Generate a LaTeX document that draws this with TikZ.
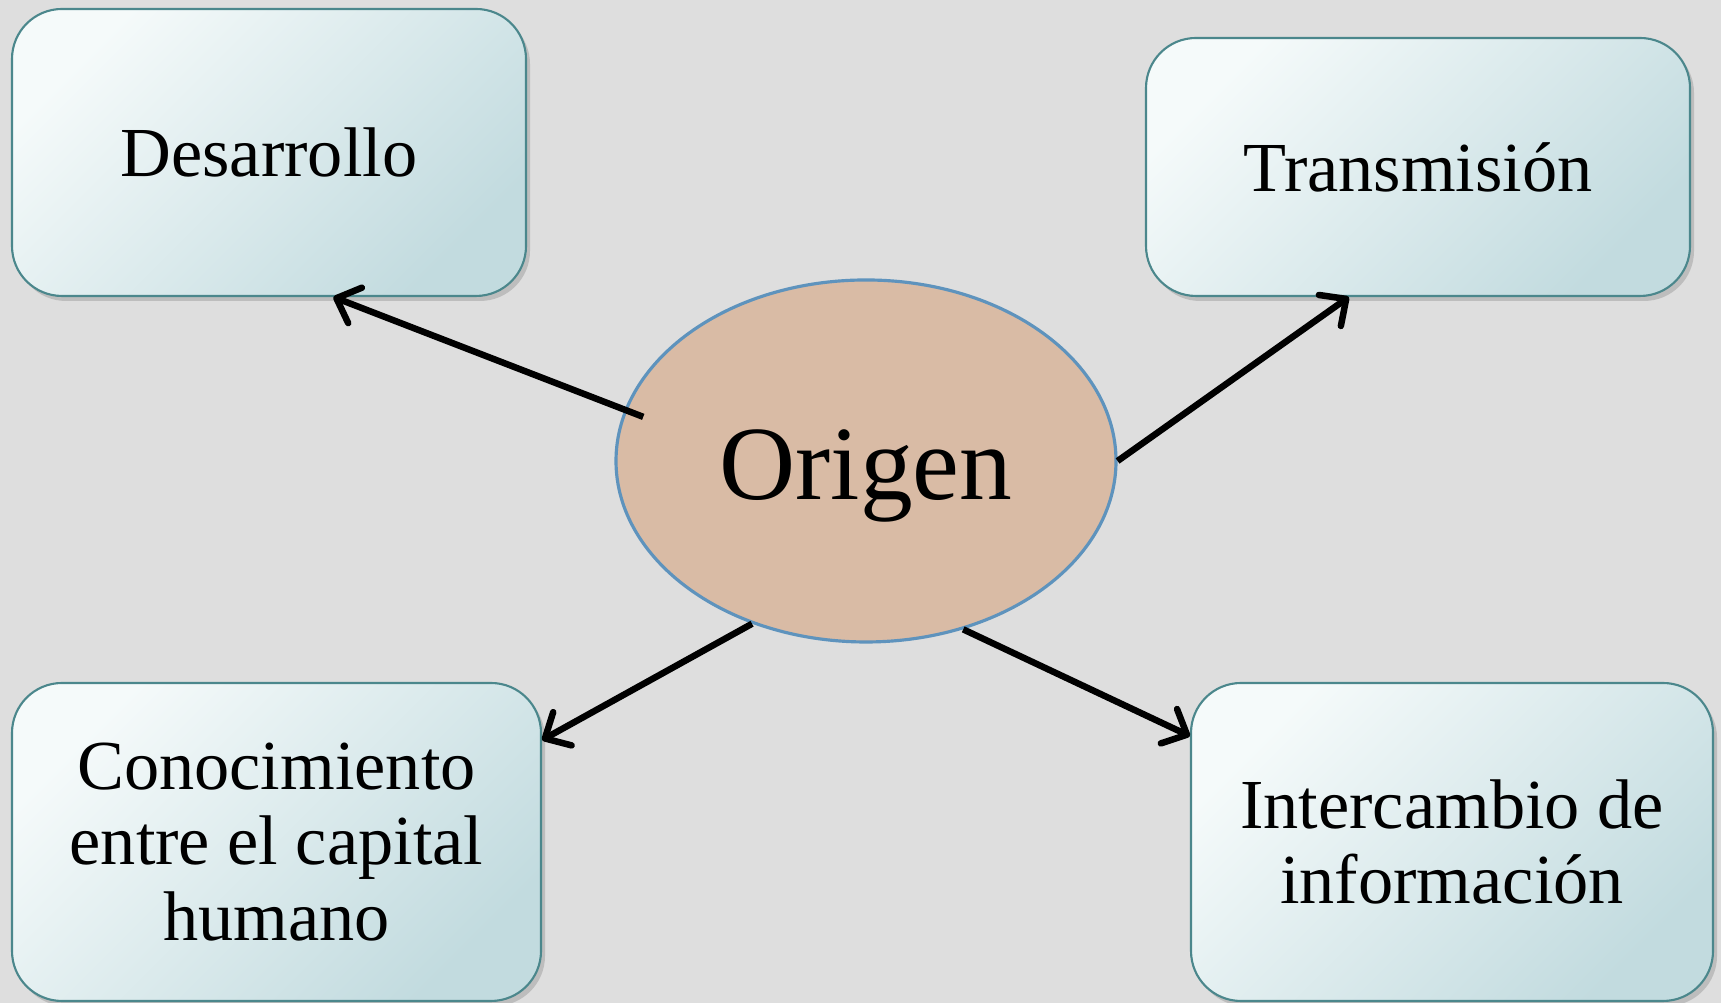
\documentclass[tikz,border=0pt]{standalone}
\usepackage{fontspec}
\setmainfont{Liberation Serif}
\usetikzlibrary{positioning,arrows.meta,shapes.geometric,shadows}

\definecolor{fondo}{HTML}{DEDEDE}
\definecolor{cajaclara}{HTML}{F5FAFA}
\definecolor{cajaoscura}{HTML}{C2DBDF}
\definecolor{cajaborde}{HTML}{4B878C}
\definecolor{elipse}{HTML}{D9BBA5}
\definecolor{elipseborde}{HTML}{5E93BD}

\begin{document}
\begin{tikzpicture}[->,>={Straight Barb[length=2mm,width=3.8mm,round]},line width=0.065cm,
    base node/.style={rectangle,rounded corners=0.5cm,draw=cajaborde,line width=0.6pt,
        top color=cajaclara,bottom color=cajaoscura,shading angle=45,
        drop shadow={shadow xshift=0.04cm,shadow yshift=-0.05cm,opacity=0.35},
        align=center,font=\fontsize{20}{21.5}\selectfont,inner sep=0pt},
    real node/.style={ellipse,draw=elipseborde,fill=elipse,line width=0.9pt,inner sep=0pt,
        minimum width=5cm,minimum height=3.62cm,text height=1cm,text depth=0.23cm,
        font=\fontsize{30}{32}\selectfont}]

\fill[fondo] (0,0) rectangle (17.21,10.03);
\useasboundingbox (0,0) rectangle (17.21,10.03);

\node[base node,minimum width=5.14cm,minimum height=2.87cm] (desarrollo)  at (2.69,8.505)  {Desarrollo};
\node[base node,minimum width=5.44cm,minimum height=2.58cm] (transmision) at (14.18,8.36)  {Transmisión};
\node[base node,minimum width=5.29cm,minimum height=3.18cm] (conocimiento) at (2.765,1.61) {Conocimiento\\entre el capital\\humano};
\node[base node,minimum width=5.22cm,minimum height=3.18cm] (intercambio) at (14.52,1.61)  {Intercambio de\\información};
\node[real node] (origen) at (8.66,5.42) {Origen};

\path
(origen.168) edge[shorten <=-0.2cm] (desarrollo.-66.6)
(origen.0)   edge (transmision.242.2)
(origen.235) edge (conocimiento.21.2)
(origen.-60) edge (intercambio.158.5);
\end{tikzpicture}
\end{document}
